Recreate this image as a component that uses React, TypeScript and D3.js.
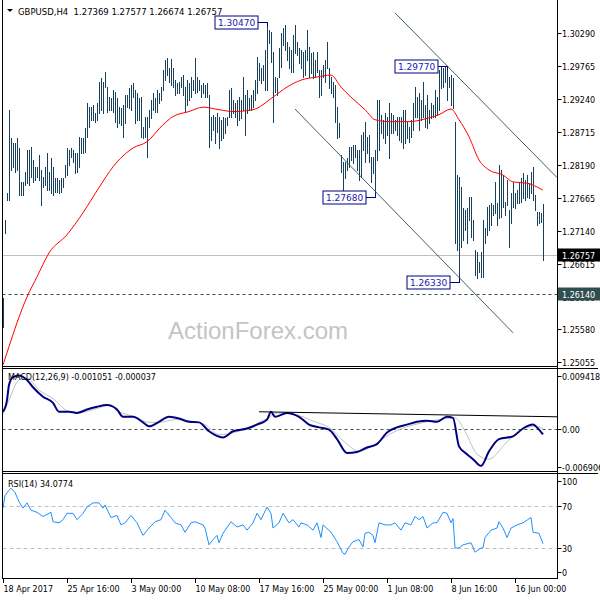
import React from "react";
import * as d3 from "d3";

/* DATA: GBPUSD H4 bars (high / low), one per 4h bar from 18 Apr 2017 */
const highs = [
  1.2607, 1.2731, 1.2774, 1.2906, 1.2862, 1.2854, 1.2854, 1.2862, 1.2846, 1.2792,
  1.2792, 1.2808, 1.2843, 1.2843, 1.2848, 1.2827, 1.2816, 1.2816, 1.2835, 1.2811,
  1.28, 1.2816, 1.2838, 1.2808, 1.283, 1.2816, 1.2798, 1.2798, 1.2795, 1.2798,
  1.2798, 1.2819, 1.2846, 1.2843, 1.2846, 1.2843, 1.2838, 1.2838, 1.2863, 1.2862,
  1.2862, 1.2878, 1.2918, 1.2911, 1.2911, 1.2914, 1.2902, 1.2918, 1.2951, 1.2957,
  1.2951, 1.2967, 1.2943, 1.2927, 1.2926, 1.2938, 1.2935, 1.2926, 1.2911, 1.291,
  1.2914, 1.293, 1.293, 1.2941, 1.2946, 1.2949, 1.2938, 1.2934, 1.2926, 1.2927,
  1.2879, 1.2895, 1.2895, 1.2906, 1.2922, 1.2934, 1.2926, 1.2938, 1.2934, 1.2943,
  1.297, 1.2986, 1.2989, 1.2973, 1.2988, 1.2973, 1.2954, 1.2949, 1.2951, 1.2959,
  1.2962, 1.2943, 1.2954, 1.2949, 1.2959, 1.2954, 1.2989, 1.2959, 1.2954, 1.2946,
  1.2949, 1.2946, 1.2949, 1.293, 1.2895, 1.2899, 1.2895, 1.2902, 1.2895, 1.2891,
  1.2895, 1.2894, 1.2895, 1.2938, 1.2941, 1.2922, 1.2918, 1.2922, 1.2927, 1.2922,
  1.2959, 1.293, 1.2938, 1.2926, 1.293, 1.2938, 1.2954, 1.2991, 1.2981, 1.2973,
  1.2978, 1.3002, 1.3047, 1.3034, 1.3031, 1.2999, 1.2959, 1.2957, 1.3005, 1.3029,
  1.3037, 1.3042, 1.3015, 1.3007, 1.3002, 1.3026, 1.3042, 1.3015, 1.3005, 1.3002,
  1.2999, 1.3002, 1.3034, 1.3007, 1.2997, 1.2999, 1.2986, 1.2999, 1.297, 1.297,
  1.2978, 1.2986, 1.3015, 1.2973, 1.2959, 1.2951, 1.2946, 1.2911, 1.2886, 1.2835,
  1.2824, 1.2824, 1.283, 1.2848, 1.2848, 1.2851, 1.2851, 1.2843, 1.2843, 1.2867,
  1.2871, 1.2887, 1.2863, 1.2867, 1.2832, 1.2832, 1.2843, 1.2922, 1.2922, 1.2899,
  1.2891, 1.2902, 1.2895, 1.2918, 1.2902, 1.2899, 1.2891, 1.2895, 1.2895, 1.2895,
  1.2906, 1.2906, 1.2887, 1.2879, 1.2891, 1.2918, 1.2943, 1.2927, 1.2934, 1.2922,
  1.2951, 1.2914, 1.293, 1.2906, 1.2918, 1.2914, 1.2938, 1.2927, 1.297, 1.2975,
  1.2973, 1.2975, 1.2977, 1.2959, 1.2962, 1.2957, 1.2887, 1.2803, 1.28, 1.2784,
  1.2751, 1.2747, 1.2751, 1.2768, 1.2768, 1.2731, 1.2684, 1.2681, 1.2665, 1.2681,
  1.2731, 1.2719, 1.2752, 1.2755, 1.2759, 1.2755, 1.2792, 1.2759, 1.2819, 1.2811,
  1.2803, 1.276, 1.2795, 1.2747, 1.2774, 1.2792, 1.2774, 1.2779, 1.279, 1.2798,
  1.2806, 1.2795, 1.2803, 1.279, 1.2808, 1.2816, 1.2771, 1.2744, 1.2744, 1.2743,
  1.27577,
];
const lows = [
  1.2561, 1.2711, 1.2763, 1.2763, 1.2811, 1.2816, 1.2808, 1.2811, 1.2771, 1.2771,
  1.2771, 1.2787, 1.279, 1.2787, 1.28, 1.2792, 1.2795, 1.28, 1.2795, 1.2755,
  1.2784, 1.2787, 1.2779, 1.2779, 1.2774, 1.2771, 1.2776, 1.2776, 1.2774, 1.2776,
  1.2784, 1.28, 1.2803, 1.2819, 1.2832, 1.2824, 1.2806, 1.2808, 1.2816, 1.2838,
  1.2838, 1.284, 1.2863, 1.2879, 1.2891, 1.2891, 1.2887, 1.2891, 1.2902, 1.2906,
  1.2902, 1.2943, 1.2903, 1.2906, 1.2906, 1.2903, 1.2887, 1.2879, 1.2886, 1.2883,
  1.2863, 1.2886, 1.2911, 1.291, 1.2906, 1.2927, 1.2886, 1.2891, 1.2891, 1.2863,
  1.2862, 1.2863, 1.2832, 1.2879, 1.2894, 1.2906, 1.2903, 1.2903, 1.2918, 1.2922,
  1.2938, 1.2954, 1.2962, 1.2951, 1.2946, 1.2943, 1.293, 1.2934, 1.2934, 1.2943,
  1.293, 1.2903, 1.2914, 1.2922, 1.2927, 1.2938, 1.2934, 1.2935, 1.2938, 1.2927,
  1.2934, 1.2927, 1.2927, 1.2848, 1.2859, 1.2875, 1.2854, 1.2871, 1.2846, 1.2859,
  1.2862, 1.287, 1.2883, 1.2895, 1.2895, 1.2902, 1.2895, 1.2883, 1.2891, 1.2894,
  1.2906, 1.2867, 1.2902, 1.2906, 1.2906, 1.2911, 1.2922, 1.2934, 1.2954, 1.2949,
  1.2954, 1.2938, 1.2938, 1.3013, 1.2983, 1.2887, 1.2935, 1.293, 1.2959, 1.2975,
  1.301, 1.3002, 1.2986, 1.2973, 1.2967, 1.2967, 1.2997, 1.2994, 1.2981, 1.2973,
  1.2959, 1.2962, 1.2986, 1.2959, 1.2965, 1.2957, 1.2959, 1.2967, 1.2927, 1.293,
  1.2959, 1.2951, 1.2973, 1.2941, 1.2934, 1.2927, 1.2887, 1.2862, 1.2863, 1.2808,
  1.2776, 1.2798, 1.2811, 1.2816, 1.2827, 1.2822, 1.2832, 1.2811, 1.2795, 1.28,
  1.2843, 1.2824, 1.2838, 1.2824, 1.2792, 1.2806, 1.2768, 1.2827, 1.2843, 1.287,
  1.2862, 1.2854, 1.2867, 1.283, 1.287, 1.287, 1.2875, 1.2867, 1.2859, 1.2856,
  1.2846, 1.2854, 1.2862, 1.2856, 1.2863, 1.2875, 1.2895, 1.2895, 1.2875, 1.2891,
  1.2895, 1.2879, 1.2878, 1.2886, 1.2894, 1.2895, 1.2895, 1.2899, 1.2906, 1.2941,
  1.2943, 1.2951, 1.2922, 1.2943, 1.2914, 1.291, 1.2695, 1.2684, 1.2633, 1.2689,
  1.27, 1.2716, 1.2695, 1.2731, 1.2704, 1.27, 1.2644, 1.2639, 1.2649, 1.2641,
  1.2641, 1.2695, 1.2708, 1.2716, 1.2724, 1.2739, 1.2743, 1.2724, 1.2735, 1.2736,
  1.2752, 1.2739, 1.2755, 1.2689, 1.2727, 1.2752, 1.2751, 1.2759, 1.2759, 1.276,
  1.2766, 1.2763, 1.2768, 1.2766, 1.2774, 1.2763, 1.2747, 1.2724, 1.2727, 1.2728,
  1.26674,
];

const maBars = [0, 3, 7, 12, 17, 23, 32, 40, 48, 55, 65, 72, 80, 85, 93, 100, 108, 115, 125, 135, 142, 149, 157, 164, 169, 174, 181, 186, 193, 203, 213, 218, 224, 228, 233, 238, 243, 250, 255, 262, 267, 270];
const maValues = [1.2501, 1.253, 1.2568, 1.2609, 1.2641, 1.2679, 1.2708, 1.2743, 1.2783, 1.2816, 1.2846, 1.2856, 1.2883, 1.2896, 1.2904, 1.2911, 1.2907, 1.2904, 1.2907, 1.2927, 1.2943, 1.2954, 1.2959, 1.2962, 1.2943, 1.2927, 1.2907, 1.2891, 1.2888, 1.2888, 1.2894, 1.2899, 1.2908, 1.2891, 1.2864, 1.2827, 1.2811, 1.2803, 1.2792, 1.279, 1.2784, 1.2779];

/* MACD(12,26,9) */
const macdBars = [0, 2, 3, 5, 8, 12, 15, 20, 25, 28, 33, 37, 42, 47, 52, 57, 60, 65, 70, 73, 78, 83, 88, 93, 98, 103, 110, 115, 122, 127, 132, 134, 136, 142, 148, 153, 158, 163, 167, 172, 177, 182, 187, 192, 197, 202, 207, 212, 217, 222, 225, 228, 232, 235, 239, 243, 248, 255, 260, 265, 267, 270];
const macdValues = [0.003, 0.0051, 0.0078, 0.0092, 0.0095, 0.0087, 0.0074, 0.0057, 0.0046, 0.003, 0.003, 0.0028, 0.0034, 0.0039, 0.0042, 0.0034, 0.0021, 0.0021, 0.0011, 0.0004, 0.0012, 0.0021, 0.0018, 0.0012, 0.0011, -0.0005, -0.0016, -0.0005, 0.0, 0.0007, 0.0016, 0.003, 0.0021, 0.0028, 0.0021, 0.0007, 0.0002, -0.0002, -0.0019, -0.0044, -0.0042, -0.0034, -0.0028, -0.0007, 0.0002, 0.0007, 0.0012, 0.0014, 0.0012, 0.0021, 0.0019, -0.0032, -0.0046, -0.0055, -0.0067, -0.0041, -0.0019, -0.0014, 0.0, 0.0007, 0.0002, -0.00105];
const signalBars = [0, 3, 8, 12, 18, 26, 31, 36, 41, 48, 53, 58, 66, 73, 78, 86, 93, 101, 108, 116, 123, 131, 138, 148, 156, 163, 171, 178, 186, 193, 201, 208, 218, 226, 231, 237, 243, 251, 258, 266, 270];
const signalValues = [0.0025, 0.0051, 0.0087, 0.009, 0.0069, 0.0051, 0.0034, 0.0028, 0.003, 0.0037, 0.0042, 0.003, 0.0021, 0.0011, 0.0011, 0.0016, 0.0014, 0.0007, -0.0011, -0.0007, 0.0002, 0.0016, 0.0028, 0.0023, 0.0012, 0.0002, -0.0025, -0.0041, -0.0028, -0.0011, 0.0002, 0.0009, 0.0016, 0.0019, -0.0005, -0.0046, -0.0055, -0.0028, -0.0005, 0.0004, 0.0];

/* RSI(14) */
const rsiBars = [0, 1, 3, 4, 6, 8, 10, 12, 14, 17, 20, 24, 25, 28, 30, 32, 35, 37, 40, 42, 45, 48, 50, 51, 54, 57, 59, 61, 64, 67, 70, 73, 76, 79, 81, 84, 86, 89, 91, 94, 96, 100, 101, 103, 105, 107, 108, 110, 114, 117, 120, 122, 125, 127, 129, 132, 134, 135, 138, 140, 143, 145, 148, 149, 152, 155, 157, 159, 160, 164, 167, 170, 171, 173, 175, 178, 180, 181, 183, 185, 186, 188, 191, 194, 196, 199, 201, 204, 206, 208, 210, 212, 215, 217, 220, 222, 224, 225, 226, 228, 230, 234, 236, 239, 240, 241, 244, 247, 248, 250, 252, 254, 257, 260, 264, 265, 268, 270];
const rsiValues = [
  68, 80, 85, 87, 83, 74, 68, 73, 66, 64,
  60, 64, 55, 54, 57, 63, 63, 57, 63, 69,
  73, 73, 68, 71, 59, 61, 52, 54, 61, 54,
  42, 49, 55, 57, 66, 59, 54, 52, 45, 54,
  55, 52, 49, 33, 38, 42, 35, 44, 55, 50,
  52, 47, 54, 63, 57, 69, 63, 49, 54, 63,
  54, 57, 50, 54, 52, 47, 54, 40, 52, 45,
  36, 25, 24, 31, 36, 38, 31, 44, 45, 42,
  35, 54, 52, 52, 54, 47, 54, 52, 60, 57,
  60, 49, 54, 54, 64, 63, 54, 58, 30, 30,
  33, 35, 26, 30, 30, 40, 47, 49, 55, 49,
  40, 49, 52, 54, 59, 45, 44, 34.08,
];

/* axes */
const priceTicks = [1.3029, 1.29765, 1.2924, 1.28715, 1.2819, 1.27665, 1.2714, 1.26615, 1.2609, 1.2558, 1.25055];
const macdTicks = [0.009418, 0, -0.006906];
const macdTickLabels = ["0.009418", "0.00", "-0.006906"];
const rsiTicks = [100, 70, 30, 0];
const dateBars = [0, 32, 64, 96, 128, 160, 192, 224, 256];
const dateLabels = ["18 Apr 2017", "25 Apr 16:00", "3 May 00:00", "10 May 08:00", "17 May 16:00", "25 May 00:00", "1 Jun 08:00", "8 Jun 16:00", "16 Jun 00:00"];

/* annotations */
const swingBars = [132, 222, 186, 228];
const swingPrices = [1.3047, 1.2977, 1.2768, 1.2633];
const swingKinds = ["high", "high", "low", "low"];
const channelUpper = [[196, 1.3061], [277, 1.2799]];
const channelLower = [[146, 1.2908], [255, 1.2552]];
const macdTrend = [[128, 0.003], [277, 0.0021]];
const lastPrice = 1.26757;
const supportPrice = 1.2614;
const header = "GBPUSD,H4  1.27369 1.27577 1.26674 1.26757";

const AXIS_FONT = "'DejaVu Sans', sans-serif";
const BAR_COLOR = "#16405c";
const LEFT = 2.5;
const RIGHT = 557.5;

function SwingLabel(props: { bx: number; by: number; text: string; kind: string }) {
  const right = props.bx - 9;
  const dir = props.kind === "high" ? 4 : -4;
  return (
    <g>
      <line x1={right} x2={props.bx + 0.5} y1={props.by} y2={props.by} stroke="#000080" />
      <line x1={props.bx + 0.5} x2={props.bx + 0.5} y1={props.by} y2={props.by + dir} stroke="#000080" />
      <rect x={right - 43} y={props.by - 6.5} width={43} height={13} fill="white" stroke="#000080" />
      <text x={right - 21.5} y={props.by + 3.3} textAnchor="middle" fontSize={9} fontFamily={AXIS_FONT} fill="#1a1ab0">
        {props.text}
      </text>
    </g>
  );
}

function App() {
  const x = d3.scaleLinear().domain([0, 270]).range([3, 543]);
  const yP = d3.scaleLinear().domain([1.25055, 1.3029]).range([362, 33]);
  const yM = d3.scaleLinear().domain([-0.006906, 0.009418]).range([467, 376]);
  const yR = d3.scaleLinear().domain([0, 100]).range([579.5, 474.5]);

  const priceLine = d3.line<number>().x((d, i) => x(maBars[i])).y((d) => yP(d)).curve(d3.curveMonotoneX);
  const macdLine = d3.line<number>().x((d, i) => x(macdBars[i])).y((d) => yM(d)).curve(d3.curveMonotoneX);
  const signalLine = d3.line<number>().x((d, i) => x(signalBars[i])).y((d) => yM(d)).curve(d3.curveMonotoneX);
  const rsiLine = d3.line<number>().x((d, i) => x(rsiBars[i])).y((d) => yR(d));
  const trendP = d3.line<number[]>().x((d) => x(d[0])).y((d) => yP(d[1]));
  const trendM = d3.line<number[]>().x((d) => x(d[0])).y((d) => yM(d[1]));

  const lastY = Math.round(yP(lastPrice)) + 0.5;
  const supY = Math.round(yP(supportPrice)) + 0.5;

  return (
    <div style={{ position: "absolute", left: 0, top: 0, width: 600, height: 600, background: "white" }}>
      <svg width={600} height={600} style={{ display: "block" }}>
        <defs>
          <clipPath id="mainClip">
            <rect x={LEFT} y={0} width={RIGHT - LEFT} height={366} />
          </clipPath>
          <clipPath id="macdClip">
            <rect x={LEFT} y={368} width={RIGHT - LEFT} height={103} />
          </clipPath>
        </defs>

        {/* watermark */}
        <text x={258} y={339} textAnchor="middle" fontSize={24} fontFamily="'Liberation Sans', Arial, sans-serif" fill="#c4c4c4">
          ActionForex.com
        </text>

        {/* header */}
        <polygon points="7,9 13,9 10,12" fill="black" />
        <text x={18} y={14.5} fontSize={8.5} fontFamily={AXIS_FONT} fill="black" style={{ whiteSpace: "pre" }}>
          {header}
        </text>

        {/* main panel */}
        <g clipPath="url(#mainClip)">
          <line x1={LEFT} x2={RIGHT} y1={lastY} y2={lastY} stroke="#c0c0c0" />
          <line x1={LEFT} x2={RIGHT} y1={supY} y2={supY} stroke="#2f4f4f" strokeDasharray="3,3" />
          {highs.map((h, i) => (
            <line
              key={i}
              x1={Math.round(x(i)) + 0.5}
              x2={Math.round(x(i)) + 0.5}
              y1={Math.round(yP(h))}
              y2={Math.round(yP(lows[i])) + 1}
              stroke={BAR_COLOR}
              shapeRendering="crispEdges"
            />
          ))}
          <path d={priceLine(maValues) || ""} fill="none" stroke="red" strokeWidth={1} />
          <path d={trendP(channelUpper) || ""} fill="none" stroke="#2f4f4f" strokeWidth={0.9} />
          <path d={trendP(channelLower) || ""} fill="none" stroke="#2f4f4f" strokeWidth={0.9} />
          {swingBars.map((b, i) => (
            <SwingLabel
              key={i}
              bx={Math.round(x(b))}
              by={Math.round(yP(swingPrices[i])) + 0.5}
              text={swingPrices[i].toFixed(5)}
              kind={swingKinds[i]}
            />
          ))}
        </g>

        {/* MACD panel */}
        <g clipPath="url(#macdClip)">
          <line x1={LEFT} x2={RIGHT} y1={Math.round(yM(0)) + 0.5} y2={Math.round(yM(0)) + 0.5} stroke="#505050" strokeDasharray="3,3" />
          <path d={signalLine(signalValues) || ""} fill="none" stroke="#c0c0c0" strokeWidth={1} />
          <path d={macdLine(macdValues) || ""} fill="none" stroke="#000080" strokeWidth={2} />
          <path d={trendM(macdTrend) || ""} fill="none" stroke="black" strokeWidth={1} />
        </g>
        <text x={8} y={380} fontSize={8} fontFamily={AXIS_FONT} fill="black">
          MACD(12,26,9) -0.001051 -0.000037
        </text>

        {/* RSI panel */}
        {[70, 30].map((v) => (
          <line key={v} x1={LEFT} x2={RIGHT} y1={Math.round(yR(v)) + 0.5} y2={Math.round(yR(v)) + 0.5} stroke="#c0c0c0" strokeDasharray="4,3" />
        ))}
        <path d={rsiLine(rsiValues) || ""} fill="none" stroke="#1e90ff" strokeWidth={1} />
        <text x={8} y={487} fontSize={8} fontFamily={AXIS_FONT} fill="black">
          RSI(14) 34.0774
        </text>

        {/* frames */}
        <g stroke="black" fill="none" shapeRendering="crispEdges">
          <line x1={LEFT} x2={LEFT} y1={0} y2={579} />
          <line x1={RIGHT} x2={RIGHT} y1={0} y2={579} />
          <line x1={LEFT} x2={RIGHT} y1={366.5} y2={366.5} />
          <line x1={LEFT} x2={598} y1={368.5} y2={368.5} />
          <line x1={LEFT} x2={RIGHT} y1={471.5} y2={471.5} />
          <line x1={LEFT} x2={598} y1={473.5} y2={473.5} />
          <line x1={LEFT} x2={RIGHT} y1={578.5} y2={578.5} />
        </g>

        {/* price axis */}
        {priceTicks.map((p) => {
          const ty = Math.round(yP(p)) + 0.5;
          return (
            <g key={p}>
              <line x1={RIGHT} x2={RIGHT + 4} y1={ty} y2={ty} stroke="black" />
              <text x={562} y={ty + 3} fontSize={8} fontFamily={AXIS_FONT} fill="black">
                {p.toFixed(5)}
              </text>
            </g>
          );
        })}
        <rect x={558} y={lastY - 7} width={42} height={13} fill="black" />
        <text x={562} y={lastY + 3} fontSize={8} fontFamily={AXIS_FONT} fill="white">
          {lastPrice.toFixed(5)}
        </text>
        <rect x={558} y={supY - 7} width={42} height={13} fill="#2f4f4f" />
        <text x={562} y={supY + 3} fontSize={8} fontFamily={AXIS_FONT} fill="white">
          {supportPrice.toFixed(5)}
        </text>

        {/* MACD axis */}
        {macdTicks.map((v, i) => {
          const ty = Math.round(yM(v)) + 0.5;
          return (
            <g key={v}>
              <line x1={RIGHT} x2={RIGHT + 4} y1={ty} y2={ty} stroke="black" />
              <text x={562} y={ty + 3} fontSize={8} fontFamily={AXIS_FONT} fill="black">
                {macdTickLabels[i]}
              </text>
            </g>
          );
        })}

        {/* RSI axis */}
        {rsiTicks.map((v) => {
          const ty = Math.round(Math.max(481, Math.min(572, yR(v)))) + 0.5;
          return (
            <g key={v}>
              <line x1={RIGHT} x2={RIGHT + 4} y1={ty} y2={ty} stroke="black" />
              <text x={562} y={ty + 3} fontSize={8} fontFamily={AXIS_FONT} fill="black">
                {v}
              </text>
            </g>
          );
        })}

        {/* time axis */}
        {dateBars.map((b, i) => {
          const tx = Math.round(x(b)) + 0.5;
          return (
            <g key={b}>
              <line x1={tx} x2={tx} y1={578} y2={583} stroke="black" />
              <text x={tx} y={592} fontSize={8} fontFamily={AXIS_FONT} fill="black">
                {dateLabels[i]}
              </text>
            </g>
          );
        })}
      </svg>
    </div>
  );
}

export default App;
